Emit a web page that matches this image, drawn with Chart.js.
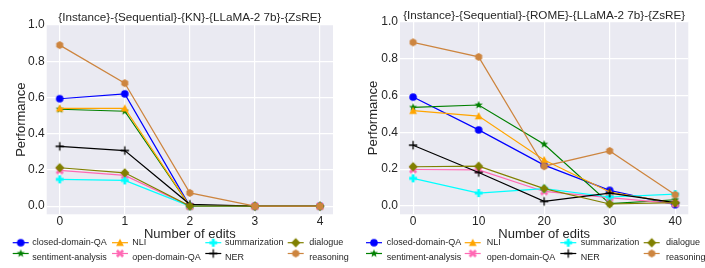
<!DOCTYPE html>
<html>
<head>
<meta charset="utf-8">
<script src="https://cdn.jsdelivr.net/npm/chart.js@4/dist/chart.umd.min.js"></script>
<style>
  html, body { margin: 0; padding: 0; background: #ffffff; }
  #wrap { position: relative; width: 705px; height: 268px; }
  .box { position: absolute; top: 0; height: 268px; }
</style>
</head>
<body>
<div id="wrap">
  <div class="box" style="left:0;width:352px"><canvas id="knChart"></canvas></div>
  <div class="box" style="left:352px;width:353px"><canvas id="romeChart"></canvas></div>
</div>
<script>
// series names (plot / legend order)
const seriesNames = ['closed-domain-QA', 'sentiment-analysis', 'NLI', 'open-domain-QA',
                     'summarization', 'NER', 'dialogue', 'reasoning'];
const seriesColors = ['#0000ff', '#008000', '#ffa500', '#ff69b4',
                      '#00ffff', '#000000', '#808000', '#cd853f'];
const seriesMarkers = ['circle', 'star', 'triangle', 'xfill', 'plusfill', 'plus', 'diamond', 'hexagon'];

// x values (number of edits)
const knEdits = [0, 1, 2, 3, 4];
const romeEdits = [0, 10, 20, 30, 40];

// tick labels
const yTicks = [0, 0.2, 0.4, 0.6, 0.8, 1.0];

// KN panel
const knClosedQA   = [0.593, 0.620, 0.000, 0.000, 0.000];
const knSentiment  = [0.535, 0.524, 0.000, 0.000, 0.000];
const knNLI        = [0.540, 0.540, 0.000, 0.000, 0.000];
const knOpenQA     = [0.197, 0.170, 0.000, 0.000, 0.000];
const knSummary    = [0.148, 0.142, 0.000, 0.000, 0.000];
const knNER        = [0.330, 0.307, 0.010, 0.000, 0.000];
const knDialogue   = [0.212, 0.184, 0.000, 0.000, 0.000];
const knReasoning  = [0.889, 0.679, 0.073, 0.000, 0.000];

// ROME panel
const romeClosedQA  = [0.591, 0.413, 0.222, 0.085, 0.007];
const romeSentiment = [0.535, 0.548, 0.335, 0.013, 0.034];
const romeNLI       = [0.517, 0.488, 0.250, 0.076, 0.016];
const romeOpenQA    = [0.198, 0.196, 0.079, 0.045, 0.013];
const romeSummary   = [0.150, 0.070, 0.094, 0.049, 0.065];
const romeNER       = [0.330, 0.182, 0.025, 0.070, 0.018];
const romeDialogue  = [0.213, 0.216, 0.094, 0.011, 0.018];
const romeReasoning = [0.888, 0.809, 0.216, 0.299, 0.061];

const knValues = [knClosedQA, knSentiment, knNLI, knOpenQA, knSummary, knNER, knDialogue, knReasoning];
const romeValues = [romeClosedQA, romeSentiment, romeNLI, romeOpenQA, romeSummary, romeNER, romeDialogue, romeReasoning];

Chart.defaults.font.family = "'Liberation Sans', Arial, sans-serif";
Chart.defaults.color = '#262626';

// small canvases used as point styles (matplotlib-like markers)
function makeMarker(shape, color) {
  const s = 12;
  const c = document.createElement('canvas');
  c.width = s; c.height = s;
  const g = c.getContext('2d');
  g.translate(s / 2, s / 2);
  g.fillStyle = color;
  g.strokeStyle = color;
  g.beginPath();
  if (shape === 'circle') {
    g.arc(0, 0, 3.8, 0, Math.PI * 2);
  } else if (shape === 'triangle') {
    g.moveTo(0, -3.9); g.lineTo(3.9, 3.3); g.lineTo(-3.9, 3.3);
  } else if (shape === 'diamond') {
    g.moveTo(0, -4.7); g.lineTo(4.5, 0); g.lineTo(0, 4.7); g.lineTo(-4.5, 0);
  } else if (shape === 'hexagon') {
    for (let k = 0; k < 6; k++) {
      const a = -Math.PI / 2 + k * Math.PI / 3;
      g.lineTo(4 * Math.cos(a), 4 * Math.sin(a));
    }
  } else if (shape === 'star') {
    for (let k = 0; k < 10; k++) {
      const a = -Math.PI / 2 + k * Math.PI / 5;
      const r = k % 2 === 0 ? 4.3 : 1.8;
      g.lineTo(r * Math.cos(a), r * Math.sin(a));
    }
  } else if (shape === 'plusfill' || shape === 'xfill') {
    if (shape === 'xfill') g.rotate(Math.PI / 4);
    const r = shape === 'xfill' ? 4.4 : 3.9, w = 1.4;
    const pts = [[-w, -r], [w, -r], [w, -w], [r, -w], [r, w], [w, w], [w, r], [-w, r], [-w, w], [-r, w], [-r, -w], [-w, -w]];
    pts.forEach(p => g.lineTo(p[0], p[1]));
  } else if (shape === 'plus') {
    g.lineWidth = 1.3;
    g.moveTo(-4.2, 0); g.lineTo(4.2, 0);
    g.moveTo(0, -4.2); g.lineTo(0, 4.2);
    g.stroke();
    return c;
  }
  g.closePath();
  g.fill();
  return c;
}

const markerImgs = seriesNames.map((n, i) => makeMarker(seriesMarkers[i], seriesColors[i]));

const bgPlugin = {
  id: 'plotBg',
  beforeDraw(chart) {
    const a = chart.chartArea, ctx = chart.ctx;
    ctx.save();
    ctx.fillStyle = '#eaeaf2';
    ctx.fillRect(a.left, a.top, a.right - a.left, a.bottom - a.top);
    ctx.restore();
  }
};

// title centred over the plot area + 4-column legend underneath
const legendPlugin = {
  id: 'gridLegend',
  afterDraw(chart, args, opts) {
    const ctx = chart.ctx, a = chart.chartArea;
    ctx.save();
    ctx.font = "11.7px 'Liberation Sans', Arial, sans-serif";
    ctx.textBaseline = 'middle';
    ctx.textAlign = 'center';
    ctx.fillStyle = '#262626';
    ctx.fillText(opts.title, (a.left + a.right) / 2, opts.titleY);

    ctx.font = "9px 'Liberation Sans', Arial, sans-serif";
    ctx.textAlign = 'left';
    seriesNames.forEach((name, i) => {
      const col = Math.floor(i / 2), row = i % 2;
      const mx = opts.markerX[col], tx = opts.textX[col];
      const my = opts.markerY[row], ty = opts.textY[row];
      ctx.strokeStyle = seriesColors[i];
      ctx.lineWidth = 1.2;
      ctx.beginPath();
      ctx.moveTo(mx - 8, my); ctx.lineTo(mx + 8, my);
      ctx.stroke();
      const img = markerImgs[i];
      ctx.drawImage(img, mx - img.width / 2, my - img.height / 2);
      ctx.fillStyle = '#262626';
      ctx.fillText(name, tx, ty);
    });
    ctx.restore();
  }
};

function buildChart(id, edits, values, title, xMin, xMax, xTicks, lay) {
  const datasets = values.map((vals, i) => ({
    label: seriesNames[i],
    data: edits.map((x, j) => ({x: x, y: vals[j]})),
    borderColor: seriesColors[i],
    backgroundColor: seriesColors[i],
    borderWidth: 1.2,
    pointStyle: markerImgs[i],
    pointRadius: 4,
    tension: 0,
    order: values.length - i
  }));
  return new Chart(document.getElementById(id), {
    type: 'line',
    data: {datasets: datasets},
    options: {
      responsive: false,
      animation: false,
      devicePixelRatio: 1,
      layout: {padding: {left: 0, right: lay.right, top: lay.top, bottom: 26}},
      plugins: {
        legend: {display: false},
        tooltip: {enabled: false},
        gridLegend: {title: title, titleY: lay.titleY,
                     markerX: lay.markerX, textX: lay.textX, markerY: [242.7, 253.5], textY: [242.7, 257.2]}
      },
      scales: {
        x: {
          type: 'linear',
          min: xMin, max: xMax,
          afterFit: s => { s.height = lay.xHeight; },
          afterBuildTicks: s => { s.ticks = xTicks.map(v => ({value: v})); },
          grid: {color: '#ffffff', lineWidth: 1.2, drawTicks: false},
          border: {display: false},
          ticks: {font: {size: 12}, padding: 0, color: '#262626'},
          title: {display: true, text: 'Number of edits', font: {size: 13}, color: '#262626', padding: {top: 0, bottom: 0}}
        },
        y: {
          type: 'linear',
          min: -0.045, max: 1.0,
          afterFit: s => { s.width = lay.yWidth; },
          afterBuildTicks: s => { s.ticks = yTicks.map(v => ({value: v})); },
          grid: {color: '#ffffff', lineWidth: 1.2, drawTicks: false},
          border: {display: false},
          ticks: {font: {size: 12}, padding: 2, color: '#262626', callback: v => v.toFixed(1)},
          title: {display: true, text: 'Performance', font: {size: 13}, color: '#262626', padding: {top: lay.yTitlePad, bottom: 0}}
        }
      }
    },
    plugins: [bgPlugin, legendPlugin]
  });
}

document.getElementById('knChart').width = 352;
document.getElementById('knChart').height = 268;
document.getElementById('romeChart').width = 353;
document.getElementById('romeChart').height = 268;

buildChart('knChart', knEdits, knValues,
  '{Instance}-{Sequential}-{KN}-{LLaMA-2 7b}-{ZsRE}', -0.2, 4.2, knEdits,
  {right: 19, top: 25, titleY: 17.3, xHeight: 27.7, yWidth: 46.7, yTitlePad: 13.5,
   markerX: [20.7, 120, 213.3, 295.7], textX: [32.3, 132.3, 225, 309.3]});

buildChart('romeChart', romeEdits, romeValues,
  '{Instance}-{Sequential}-{ROME}-{LLaMA-2 7b}-{ZsRE}', -2, 42, romeEdits,
  {right: 16.7, top: 21.7, titleY: 15.5, xHeight: 27.7, yWidth: 48, yTitlePad: 14,
   markerX: [22, 120.7, 216.3, 299.7], textX: [34.7, 134.7, 228.7, 314]});
</script>
</body>
</html>
